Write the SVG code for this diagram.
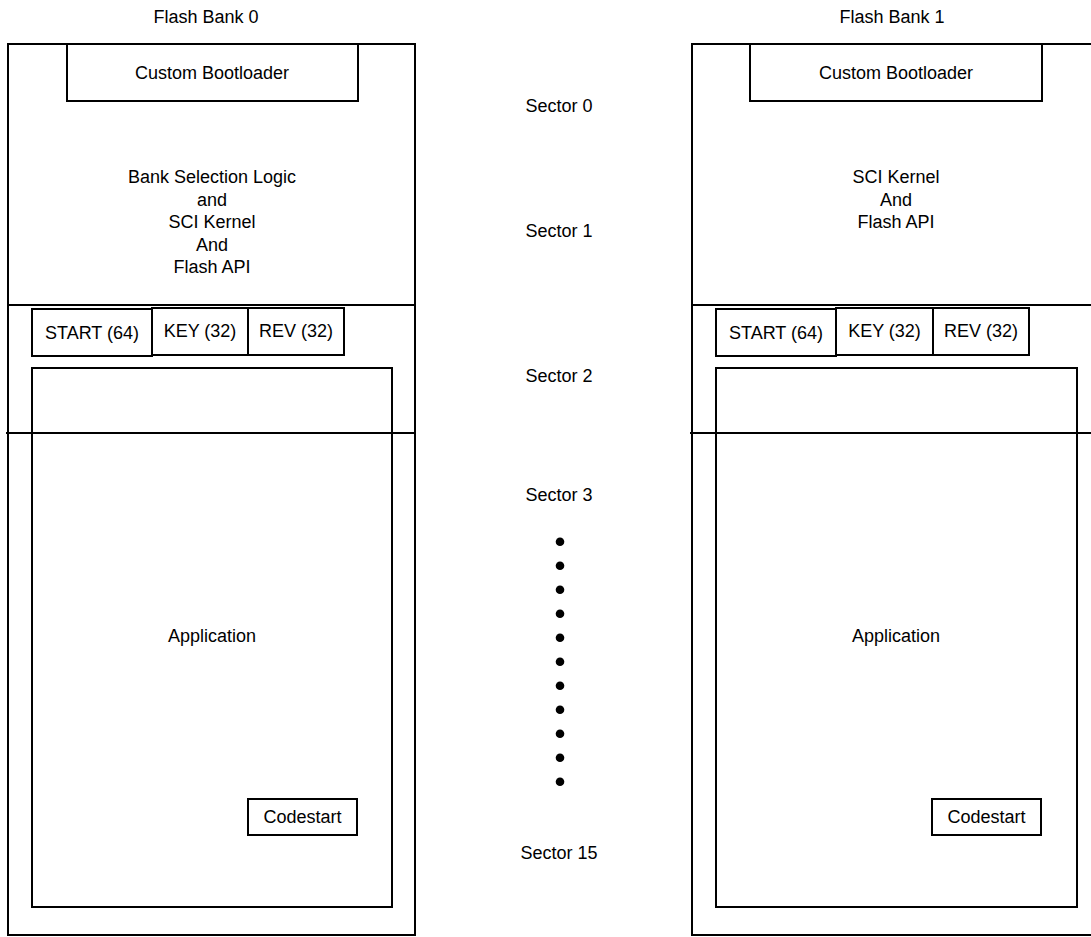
<svg xmlns="http://www.w3.org/2000/svg" width="1091" height="937" viewBox="0 0 1091 937">
<style>
.b{fill:#fff;stroke:#000;stroke-width:2}
.l{fill:none;stroke:#000;stroke-width:2}
text{font-family:"Liberation Sans",Arial,sans-serif;font-size:18px;fill:#000;text-anchor:middle}
</style>
<rect width="1091" height="937" fill="#fff"/>
<g id="bank0">
<text x="206" y="23">Flash Bank 0</text>
<rect class="b" x="8" y="44" width="407" height="891"/>
<line class="l" x1="8" y1="305" x2="415" y2="305"/>
</g>
<g id="bank1">
<text x="892" y="23">Flash Bank 1</text>
<path class="l" d="M1092,44 H692 V935 H1092"/>
<line class="l" x1="692" y1="305" x2="1092" y2="305"/>
</g>
<g id="boot0"><rect class="b" x="67" y="44" width="291" height="57"/><text x="212" y="79">Custom Bootloader</text></g>
<g id="boot1"><rect class="b" x="750" y="44" width="292" height="57"/><text x="896" y="79">Custom Bootloader</text></g>
<g id="kernel0"><text x="212" y="183">Bank Selection Logic</text><text x="212" y="205.5">and</text><text x="212" y="228">SCI Kernel</text><text x="212" y="250.5">And</text><text x="212" y="273">Flash API</text></g>
<g id="kernel1"><text x="896" y="183">SCI Kernel</text><text x="896" y="205.5">And</text><text x="896" y="228">Flash API</text></g>
<g id="hdr0">
<rect class="b" x="32" y="309" width="120" height="47"/><text x="92" y="339">START (64)</text>
<rect class="b" x="152" y="308" width="96" height="47"/><text x="200" y="337">KEY (32)</text>
<rect class="b" x="248" y="308" width="96" height="47"/><text x="296" y="337">REV (32)</text>
</g>
<g id="hdr1">
<rect class="b" x="716" y="309" width="120" height="47"/><text x="776" y="339">START (64)</text>
<rect class="b" x="836" y="308" width="97" height="47"/><text x="884.5" y="337">KEY (32)</text>
<rect class="b" x="933" y="308" width="96" height="47"/><text x="981" y="337">REV (32)</text>
</g>
<g id="app0"><rect class="b" x="32" y="368" width="360" height="539"/><text x="212" y="642">Application</text></g>
<g id="app1"><rect class="b" x="716" y="368" width="361" height="539"/><text x="896" y="642">Application</text></g>
<g id="sectorlines">
<line class="l" x1="6" y1="433" x2="415" y2="433"/>
<line class="l" x1="690" y1="433" x2="1092" y2="433"/>
</g>
<g id="code0"><rect class="b" x="248" y="799" width="109" height="36"/><text x="302.5" y="823">Codestart</text></g>
<g id="code1"><rect class="b" x="932" y="799" width="109" height="36"/><text x="986.5" y="823">Codestart</text></g>
<g id="sectors">
<text x="559" y="111.7">Sector 0</text>
<text x="559" y="236.7">Sector 1</text>
<text x="559" y="381.7">Sector 2</text>
<text x="559" y="501">Sector 3</text>
<text x="559" y="859">Sector 15</text>
</g>
<g id="dots" fill="#000">
<circle cx="560" cy="541.7" r="4.3"/><circle cx="560" cy="565.7" r="4.3"/><circle cx="560" cy="589.7" r="4.3"/><circle cx="560" cy="613.7" r="4.3"/><circle cx="560" cy="637.7" r="4.3"/><circle cx="560" cy="661.7" r="4.3"/><circle cx="560" cy="685.7" r="4.3"/><circle cx="560" cy="709.7" r="4.3"/><circle cx="560" cy="733.7" r="4.3"/><circle cx="560" cy="757.7" r="4.3"/><circle cx="560" cy="781.7" r="4.3"/>
</g>
</svg>
